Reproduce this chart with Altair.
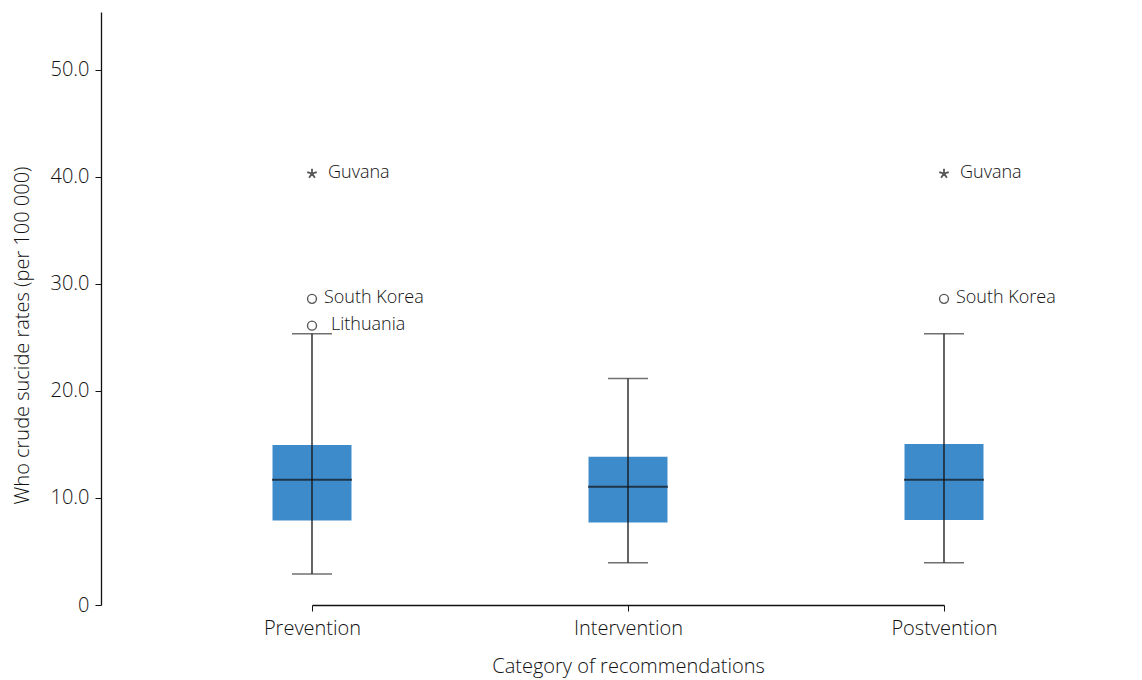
import altair as alt
import pandas as pd

# Box-plot summary per recommendation category
categories = ["Prevention", "Intervention", "Postvention"]
whisker_low = [2.9, 3.95, 3.95]
q1 = [7.9, 7.7, 7.95]
median = [11.7, 11.05, 11.7]
q3 = [14.95, 13.85, 15.05]
whisker_high = [25.35, 21.15, 25.35]

# Outlying countries
out_category = ["Prevention", "Prevention", "Prevention", "Postvention", "Postvention"]
out_country = ["Guvana", "South Korea", "Lithuania", "Guvana", "South Korea"]
out_value = [40.3, 28.6, 26.1, 40.3, 28.6]
out_kind = ["extreme", "outlier", "outlier", "extreme", "outlier"]

box = pd.DataFrame({
    "cat": categories, "lo": whisker_low, "q1": q1,
    "med": median, "q3": q3, "hi": whisker_high,
})
out = pd.DataFrame({
    "cat": out_category, "country": out_country,
    "value": out_value, "kind": out_kind,
})

FONT = "Open Sans"
WEIGHT = 300
TXT = "#111111"
BLUE = "#3e8bcb"

x_enc = alt.X(
    "cat:N",
    sort=categories,
    scale=alt.Scale(type="point", range=[211, 843], padding=0),
    axis=alt.Axis(
        title="Category of recommendations",
        titleFont=FONT, titleFontSize=20, titleFontWeight=WEIGHT, titleColor=TXT,
        titlePadding=18,
        labelFont=FONT, labelFontSize=20, labelFontWeight=WEIGHT, labelColor=TXT,
        labelPadding=7, labelAngle=0,
        domainColor="#111111", domainWidth=1.3,
        tickColor="#111111", tickSize=6, tickWidth=1,
    ),
)
y_scale = alt.Scale(domain=[0, 55.4], nice=False, zero=True)
y_axis = alt.Axis(
    title="Who crude sucide rates (per 100 000)",
    titleFont=FONT, titleFontSize=20, titleFontWeight=WEIGHT, titleColor=TXT,
    titlePadding=17, titleY=323,
    values=[0, 10, 20, 30, 40, 50],
    labelExpr="datum.value == 0 ? '0' : format(datum.value, '.1f')",
    labelFont=FONT, labelFontSize=20, labelFontWeight=WEIGHT, labelColor=TXT,
    labelPadding=6,
    domainColor="#111111", domainWidth=1.3,
    tickColor="#111111", tickSize=6, tickWidth=1,
    grid=False,
)

base = alt.Chart(box).encode(x=x_enc)

boxes = base.mark_bar(size=79, color=BLUE).encode(
    y=alt.Y("q1:Q", scale=y_scale, axis=y_axis),
    y2="q3:Q",
)
whiskers = base.mark_rule(color="#111111", strokeWidth=1.3).encode(
    y="lo:Q", y2="hi:Q",
)
medians = base.mark_tick(size=80, thickness=2, color="#111111").encode(y="med:Q")
caps_lo = base.mark_tick(size=40, thickness=1.5, color="#333333").encode(y="lo:Q")
caps_hi = base.mark_tick(size=40, thickness=1.5, color="#333333").encode(y="hi:Q")

obase = alt.Chart(out).encode(x=x_enc, y=alt.Y("value:Q", scale=y_scale))

circles = obase.transform_filter("datum.kind == 'outlier'").mark_point(
    shape="circle", filled=False, size=80, color="#111111", strokeWidth=1.4
)
star_path = ("M0,0L0,-1M0,0L0.95,-0.31M0,0L0.59,0.81"
             "M0,0L-0.59,0.81M0,0L-0.95,-0.31")
stars = obase.transform_filter("datum.kind == 'extreme'").mark_point(
    shape=star_path, filled=False, size=100, color="#111111", strokeWidth=1.8
)

def label_layer(cond, dx):
    return obase.transform_filter(cond).mark_text(
        align="left", baseline="middle", dx=dx, dy=-1,
        font=FONT, fontSize=18, fontWeight=WEIGHT, color=TXT,
    ).encode(text="country:N")

labels_extreme = label_layer("datum.kind == 'extreme'", 16)
labels_korea = label_layer("datum.country == 'South Korea'", 12)
labels_lith = label_layer("datum.country == 'Lithuania'", 19)

chart = alt.layer(
    boxes, whiskers, medians, caps_lo, caps_hi,
    circles, stars, labels_extreme, labels_korea, labels_lith,
).properties(
    width=1041, height=593,
    autosize=alt.AutoSizeParams(type="none"),
    padding={"left": 101, "top": 12, "right": 0, "bottom": 75},
).configure_view(stroke=None)

chart.save("out.html", embed_options={"renderer": "svg", "actions": False})
